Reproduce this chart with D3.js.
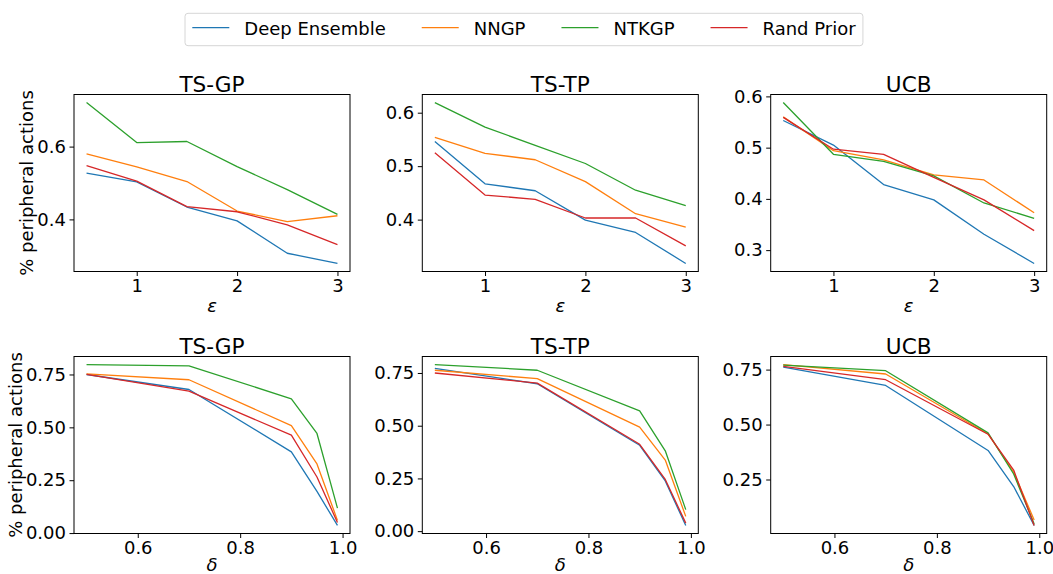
<!DOCTYPE html>
<html>
<head>
<meta charset="utf-8">
<script src="https://cdn.jsdelivr.net/npm/d3@7"></script>
<style>
  html, body { margin: 0; padding: 0; background: #fff; }
  svg { display: block; font-family: "DejaVu Sans", sans-serif; }
</style>
</head>
<body>
<svg id="chart" width="1053" height="574"></svg>
<script>
// ---------- data ----------
const seriesNames = ["Deep Ensemble", "NNGP", "NTKGP", "Rand Prior"];
const panelTitles = ["TS-GP", "TS-TP", "UCB"];
const xEps = [0.5, 1, 1.5, 2, 2.5, 3];
const xDelta = [0.5, 0.7, 0.9, 0.95, 0.99];

// order of series: Deep Ensemble, NNGP, NTKGP, Rand Prior
const epsTSGP = [
  [0.527, 0.503, 0.434, 0.396, 0.307, 0.279],
  [0.580, 0.544, 0.504, 0.423, 0.394, 0.410],
  [0.721, 0.611, 0.614, 0.545, 0.482, 0.414],
  [0.548, 0.505, 0.435, 0.421, 0.385, 0.331]
];
const epsTSTP = [
  [0.546, 0.467, 0.454, 0.399, 0.376, 0.318],
  [0.554, 0.524, 0.512, 0.471, 0.411, 0.386],
  [0.619, 0.573, 0.539, 0.505, 0.455, 0.426],
  [0.525, 0.446, 0.438, 0.403, 0.403, 0.351]
];
const epsUCB = [
  [0.553, 0.505, 0.428, 0.398, 0.331, 0.274],
  [0.560, 0.494, 0.476, 0.447, 0.437, 0.373],
  [0.588, 0.487, 0.473, 0.445, 0.392, 0.362],
  [0.559, 0.497, 0.487, 0.442, 0.398, 0.338]
];
const deltaTSGP = [
  [0.750, 0.679, 0.384, 0.197, 0.036],
  [0.753, 0.725, 0.508, 0.327, 0.060],
  [0.797, 0.791, 0.635, 0.471, 0.118],
  [0.750, 0.671, 0.463, 0.265, 0.050]
];
const deltaTSTP = [
  [0.772, 0.699, 0.407, 0.238, 0.027],
  [0.763, 0.723, 0.493, 0.337, 0.070],
  [0.790, 0.763, 0.570, 0.381, 0.102],
  [0.750, 0.702, 0.412, 0.245, 0.038]
];
const deltaUCB = [
  [0.761, 0.678, 0.382, 0.218, 0.041],
  [0.773, 0.730, 0.457, 0.283, 0.066],
  [0.770, 0.745, 0.462, 0.275, 0.048],
  [0.765, 0.704, 0.456, 0.293, 0.041]
];

const epsXTicks = [1, 2, 3];
const deltaXTicks = [0.6, 0.8, 1.0];
const epsYTicks = [[0.4, 0.6], [0.4, 0.5, 0.6], [0.3, 0.4, 0.5, 0.6]];
const deltaYTicks = [[0, 0.25, 0.5, 0.75], [0, 0.25, 0.5, 0.75], [0.25, 0.5, 0.75]];
const yLabel = "% peripheral actions";

// ---------- style ----------
const colors = ["#1f77b4", "#ff7f0e", "#2ca02c", "#d62728"];
const colLeft = [74, 422.3, 770.7];
const rowTop = [94.5, 356.5];
const pw = 276, ph = 177;
const tickFont = 18, titleFont = 21.6;

const svg = d3.select("#chart");

function pad(ext) {
  const r = ext[1] - ext[0];
  return [ext[0] - 0.05 * r, ext[1] + 0.05 * r];
}

const rows = [
  { xs: xEps, data: [epsTSGP, epsTSTP, epsUCB], xTicks: epsXTicks, yTicks: epsYTicks,
    xFmt: d3.format("d"), yFmt: d3.format(".1f"), xLabel: "ε" },
  { xs: xDelta, data: [deltaTSGP, deltaTSTP, deltaUCB], xTicks: deltaXTicks, yTicks: deltaYTicks,
    xFmt: d3.format(".1f"), yFmt: d3.format(".2f"), xLabel: "δ" }
];

rows.forEach((row, ri) => {
  row.data.forEach((panel, ci) => {
    const left = colLeft[ci], top = rowTop[ri];
    const g = svg.append("g").attr("transform", `translate(${left},${top})`);
    const x = d3.scaleLinear().domain(pad(d3.extent(row.xs))).range([0, pw]);
    const allY = panel.flat();
    const y = d3.scaleLinear().domain(pad(d3.extent(allY))).range([ph, 0]);

    // lines
    const line = d3.line().x((d, i) => x(row.xs[i])).y(d => y(d));
    panel.forEach((vals, si) => {
      g.append("path").datum(vals)
        .attr("d", line)
        .attr("fill", "none")
        .attr("stroke", colors[si])
        .attr("stroke-width", 1.3)
        .attr("stroke-linejoin", "round");
    });

    // axes
    const xAxis = d3.axisBottom(x).tickValues(row.xTicks).tickFormat(row.xFmt)
      .tickSizeInner(4.5).tickSizeOuter(0).tickPadding(3.5);
    const gx = g.append("g").attr("transform", `translate(0,${ph})`).call(xAxis);
    const yAxis = d3.axisLeft(y).tickValues(row.yTicks[ci]).tickFormat(row.yFmt)
      .tickSizeInner(4.5).tickSizeOuter(0).tickPadding(3.5);
    const gy = g.append("g").call(yAxis);
    [gx, gy].forEach(a => {
      a.select(".domain").remove();
      a.selectAll("text").attr("font-size", tickFont).attr("fill", "#000")
        .attr("font-family", "DejaVu Sans");
      a.selectAll("line").attr("stroke", "#000").attr("stroke-width", 1);
    });

    // frame
    g.append("rect").attr("x", 0).attr("y", 0).attr("width", pw).attr("height", ph)
      .attr("fill", "none").attr("stroke", "#000").attr("stroke-width", 1);

    // title
    g.append("text").attr("x", pw / 2).attr("y", -3)
      .attr("text-anchor", "middle").attr("font-size", titleFont).attr("fill", "#000")
      .text(panelTitles[ci]);

    // x label
    g.append("text").attr("x", pw / 2).attr("y", ri === 0 ? ph + 40 : ph + 37)
      .attr("text-anchor", "middle").attr("font-size", tickFont).attr("font-style", "italic")
      .attr("fill", "#000").text(row.xLabel);

    // y label on the left column
    if (ci === 0) {
      const bb = gy.node().getBBox();
      const cx = bb.x - 10;
      g.append("text")
        .attr("transform", `translate(${cx + 6},${ph / 2}) rotate(-90)`)
        .attr("text-anchor", "middle").attr("font-size", tickFont).attr("fill", "#000")
        .text(yLabel);
    }
  });
});

// ---------- legend ----------
const legend = svg.append("g");
const lgLeft = 185, lgTop = 13.3, lgH = 32.4;
const handleLen = 37, handlePad = 15, colSpace = 36, borderPad = 7.3;
let cur = lgLeft + borderPad;
const lineY = lgTop + 14.4, textY = lgTop + 21.7;
const items = legend.append("g");
seriesNames.forEach((name, i) => {
  items.append("line").attr("x1", cur).attr("x2", cur + handleLen)
    .attr("y1", lineY).attr("y2", lineY)
    .attr("stroke", colors[i]).attr("stroke-width", 1.3);
  const t = items.append("text").attr("x", cur + handleLen + handlePad).attr("y", textY)
    .attr("font-size", tickFont).attr("fill", "#000").text(name);
  const w = t.node().getComputedTextLength();
  cur = cur + handleLen + handlePad + w + (i < seriesNames.length - 1 ? colSpace : 0);
});
const lgRight = cur + borderPad;
legend.insert("rect", ":first-child")
  .attr("x", lgLeft).attr("y", lgTop).attr("width", lgRight - lgLeft).attr("height", lgH)
  .attr("rx", 3).attr("ry", 3)
  .attr("fill", "#fff").attr("stroke", "#d6d6d6").attr("stroke-width", 1);
</script>
</body>
</html>
